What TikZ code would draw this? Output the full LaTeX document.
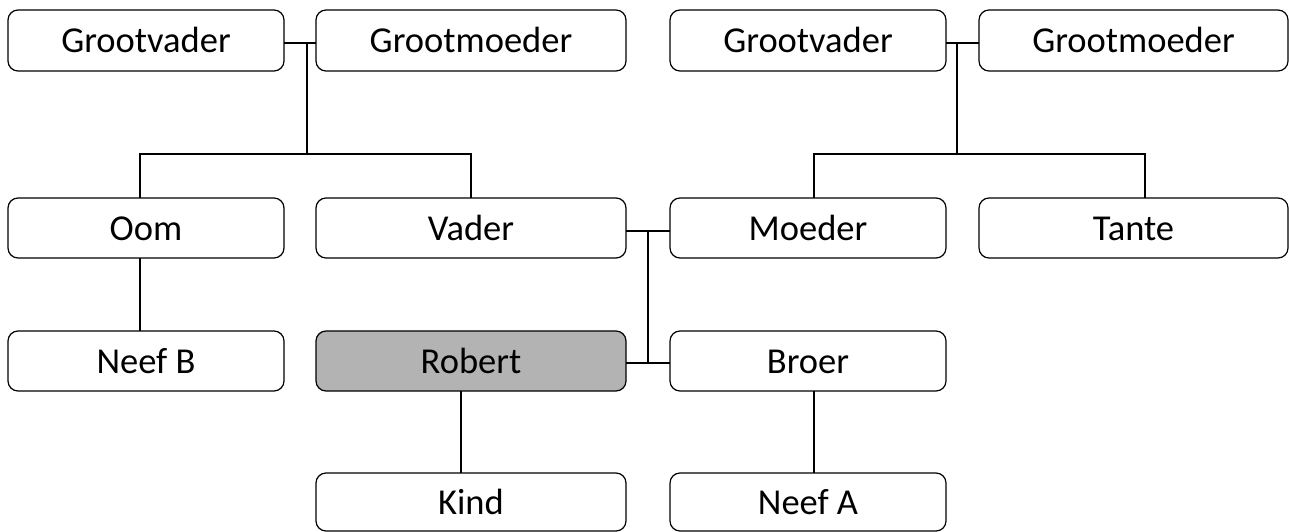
\documentclass[tikz,border=0pt]{standalone}
\usepackage{fontspec}
\setmainfont{Carlito}
\begin{document}
\begin{tikzpicture}[x=1pt,y=-1pt,
  person/.style={draw=black, line width=1.2pt, rounded corners=10pt, fill=white,
    inner sep=0pt, outer sep=0pt, text height=25pt, text depth=0pt,
    font=\fontsize{36.5}{40}\selectfont},
  c1/.style={minimum width=276pt},
  c2/.style={minimum width=310pt},
  c4/.style={minimum width=309pt},
  link/.style={draw=black, line width=2pt}]
\useasboundingbox (0,0) rectangle (1289,532);
% row 1
\node[person,c1,minimum height=61pt] (gv1) at (146,40.5) {Grootvader};
\node[person,c2,minimum height=61pt] (gm1) at (471,40.5) {Grootmoeder};
\node[person,c1,minimum height=61pt] (gv2) at (808,40.5) {Grootvader};
\node[person,c4,minimum height=61pt] (gm2) at (1133.5,40.5) {Grootmoeder};
% row 2
\node[person,c1,minimum height=60pt] (oom) at (146,228) {Oom};
\node[person,c2,minimum height=60pt] (vader) at (471,228) {Vader};
\node[person,c1,minimum height=60pt] (moeder) at (808,228) {Moeder};
\node[person,c4,minimum height=60pt] (tante) at (1133.5,228) {Tante};
% row 3
\node[person,c1,minimum height=60pt] (neefb) at (146,361) {Neef B};
\node[person,c2,minimum height=60pt,fill={rgb,255:red,179;green,179;blue,179}] (robert) at (471,361) {Robert};
\node[person,c1,minimum height=60pt] (broer) at (808,361) {Broer};
% row 4
\node[person,c2,minimum height=58pt] (kind) at (471,502) {Kind};
\node[person,c1,minimum height=58pt] (neefa) at (808,502) {Neef A};
% junctions
\coordinate (j1) at (306.5,43);
\coordinate (b1) at (306.5,154);
\coordinate (j2) at (957,43);
\coordinate (b2) at (957,154);
\coordinate (j3) at (648,231);
\coordinate (j4) at (648,363);
% connectors
\draw[link] (gv1.east|-j1) -- (gm1.west|-j1);
\draw[link] (j1) -- (b1);
\draw[link] ([xshift=-6pt]oom.north) |- (b1) -| (vader.north);
\draw[link] (gv2.east|-j2) -- (gm2.west|-j2);
\draw[link] (j2) -- (b2);
\draw[link] ([xshift=6pt]moeder.north) |- (b2) -| ([xshift=11.5pt]tante.north);
\draw[link] (vader.east|-j3) -- (moeder.west|-j3);
\draw[link] (j3) -- (j4);
\draw[link] (robert.east|-j4) -- (broer.west|-j4);
\draw[link] ([xshift=-6pt]oom.south) -- ([xshift=-6pt]neefb.north);
\draw[link] ([xshift=-10pt]robert.south) -- ([xshift=-10pt]kind.north);
\draw[link] ([xshift=6pt]broer.south) -- ([xshift=6pt]neefa.north);
\end{tikzpicture}
\end{document}
